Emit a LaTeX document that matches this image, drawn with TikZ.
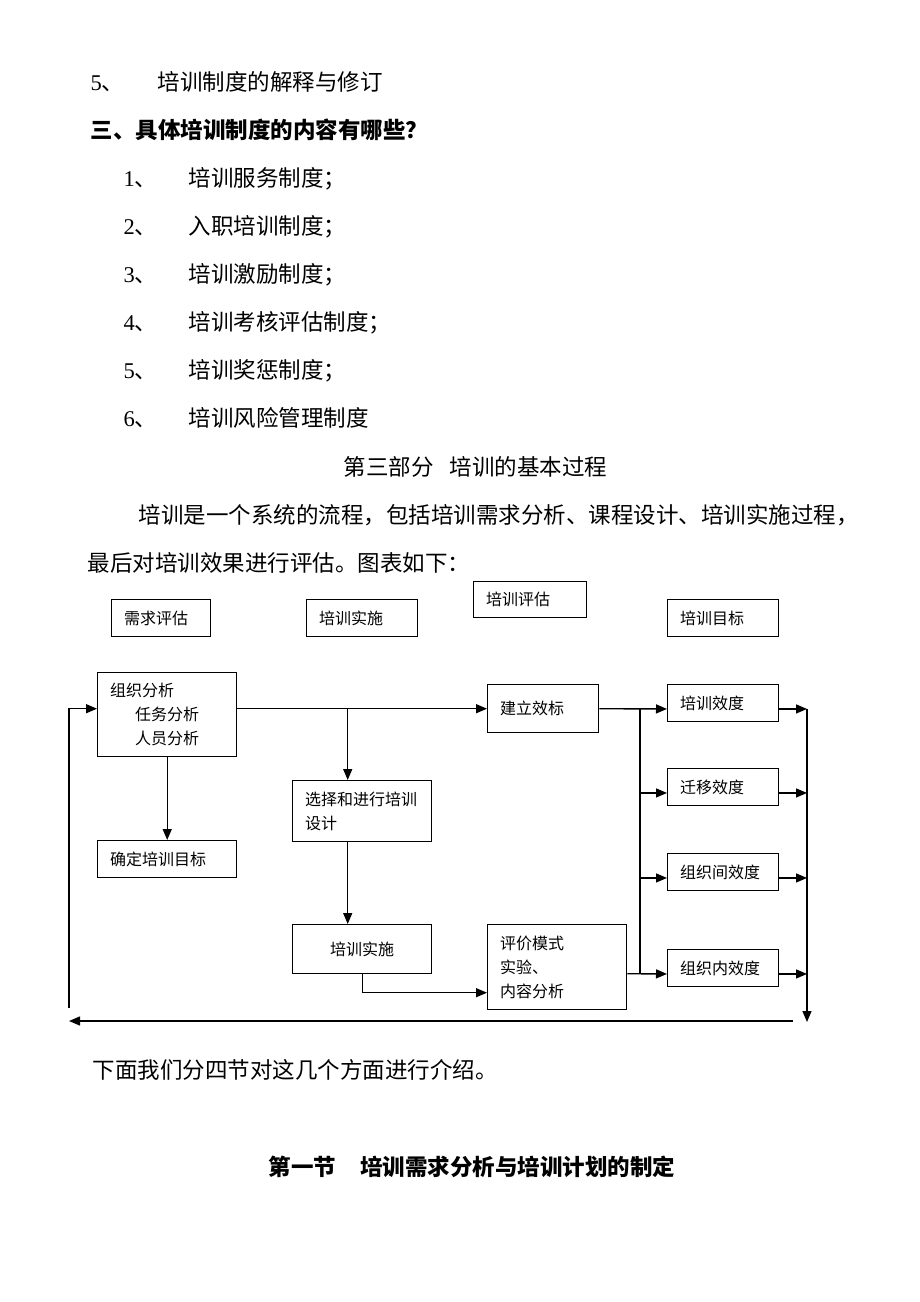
\documentclass[tikz,border=0pt]{standalone}
\usepackage{fontspec}
\setmainfont{Noto Sans CJK SC}
\newfontfamily\numfont{Liberation Serif}
\usetikzlibrary{arrows.meta}
\usetikzlibrary{positioning}

\begin{document}
\begin{tikzpicture}[x=1pt, y=-1pt, >={Triangle[length=11pt,width=9pt]}, line width=1.4pt]
\tikzstyle{box} = [draw=black, line width=1.4pt, anchor=north west, inner xsep=12.5pt, inner ysep=0pt, align=left, font=\fontsize{16}{24}\selectfont]
\tikzstyle{txt} = [anchor=base west, inner sep=0pt, font=\fontsize{22.5}{27}\selectfont]

\useasboundingbox (0,0) rectangle (920,1302);

% page text above the chart
\node[txt] (subnum) at (90,90.5) {{\numfont 5}、};
\node[txt] (sub) at (157,90.5) {培训制度的解释与修订};
\node[txt, font=\fontsize{22.5}{27}\selectfont\bfseries] (head) at (90,138.5) {三、具体培训制度的内容有哪些？};
\foreach \t [count=\i] in {培训服务制度；, 入职培训制度；, 培训激励制度；, 培训考核评估制度；, 培训奖惩制度；, 培训风险管理制度} {
  \node[txt] (num\i) at (123,138.5+48*\i) {{\numfont\i}、};
  \node[txt] (item\i) at (188,138.5+48*\i) {\t};
}
\node[txt] (part) at (343,475.5) {第三部分\hspace{16pt}培训的基本过程};
\node[txt] (para1) at (138,523.5) {培训是一个系统的流程，包括培训需求分析、课程设计、培训实施过程，};
\node[txt] (para2) at (87,571.5) {最后对培训效果进行评估。图表如下：};

% column headers
\node[box, text width=74, minimum height=37] (hdNeed) at (111,599) {需求评估};
\node[box, text width=86, minimum height=37] (hdDo) at (306,599) {培训实施};
\node[box, text width=88, minimum height=36] (hdEval) at (473,581) {培训评估};
\node[box, text width=86, minimum height=37] (hdGoal) at (667,599) {培训目标};

% process boxes
\node[box, text width=114, minimum height=84] (org) at (97,672) {组织分析\\\hspace*{25pt}任务分析\\\hspace*{25pt}人员分析};
\node[box, text width=114, minimum height=37] (goal) at (97,840) {确定培训目标};
\node[box, text width=114, minimum height=61] (design) at (292,780) {选择和进行培训\\设计};
\node[box, text width=114, minimum height=49, align=center] (impl) at (292,924) {培训实施};
\node[box, text width=86, minimum height=48] (bench) at (487,684) {建立效标};
\node[box, text width=114, minimum height=85] (model) at (487,924) {评价模式\\实验、\\内容分析};
\node[box, text width=86, minimum height=36.5] (eff1) at (667,684) {培训效度};
\node[box, text width=86, minimum height=36.5] (eff2) at (667,768) {迁移效度};
\node[box, text width=86, minimum height=36.5] (eff3) at (667,853) {组织间效度};
\node[box, text width=86, minimum height=36.5] (eff4) at (667,949) {组织内效度};

\coordinate (lbus) at (640,0);
\coordinate (rbus) at (807,0);
\coordinate (rbEnd) at (807,1022);
\coordinate (retR) at (793,1021);
\coordinate (retL) at (69,1021);
\coordinate (retUp) at (69,1008);
\coordinate (split) at ([xshift=-14.5pt]design.north);

% main flow
\draw[->] (org.east |- bench.west) -- (bench.west);
\draw[->] (split |- bench.west) -- (split);
\draw[->] (split |- design.south) -- (split |- impl.north);
\draw[->] (org.south) -- (goal.north);
\draw[->] (impl.south) |- ([yshift=-25.5pt]model.west);

% evaluation branches
\foreach \e in {1,...,4} {
  \coordinate (in\e) at ([yshift=-6pt]eff\e.west);
  \coordinate (out\e) at ([yshift=-6pt]eff\e.east);
  \draw[->] (out\e) -- (rbus |- out\e);
}
\draw[->] (bench.east) -- (in1);
\draw (lbus |- in1) -- (lbus |- in4);
\draw[->] (lbus |- in2) -- (in2);
\draw[->] (lbus |- in3) -- (in3);
\draw[->] ([yshift=-6.5pt]model.east) -- (in4);
\draw[->] (rbus |- out1) -- (rbEnd);

% feedback loop
\draw[->] (retR) -- (retL);
\draw[->] (retUp) |- ([yshift=6pt]org.west);

% page text below the chart
\node[txt] (next) at (92,1078.5) {下面我们分四节对这几个方面进行介绍。};
\node[txt, font=\fontsize{22.5}{27}\selectfont\bfseries] (sect) at (268,1175.5) {第一节\hspace{24pt}培训需求分析与培训计划的制定};
\end{tikzpicture}
\end{document}
